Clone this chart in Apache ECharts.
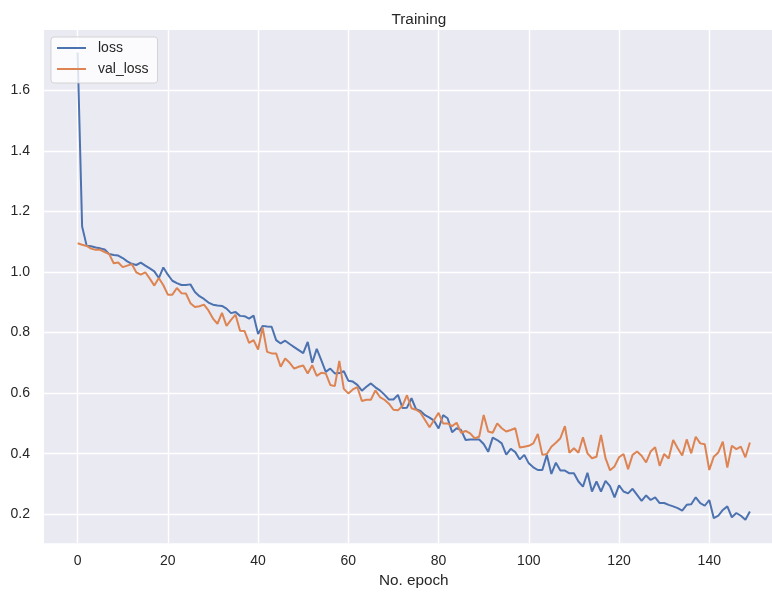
<!DOCTYPE html>
<html>
<head>
<meta charset="utf-8">
<script src="https://cdn.jsdelivr.net/npm/echarts@6/dist/echarts.min.js"></script>
<style>
  html, body { margin: 0; padding: 0; background: #ffffff; }
  #chart { width: 772px; height: 592px; }
</style>
</head>
<body>
<div id="chart"></div>
<script>
// Training history: loss and validation loss per epoch
const lossValues = [
  1.725, 1.150, 1.087, 1.085, 1.081, 1.078, 1.074, 1.059, 1.056, 1.054,
  1.046, 1.035, 1.027, 1.023, 1.031, 1.021, 1.012, 1.002, 0.980, 1.015,
  0.991, 0.971, 0.963, 0.957, 0.957, 0.959, 0.934, 0.920, 0.911, 0.899,
  0.892, 0.889, 0.888, 0.879, 0.864, 0.868, 0.855, 0.854, 0.846, 0.856,
  0.795, 0.822, 0.820, 0.819, 0.775, 0.764, 0.773, 0.762, 0.752, 0.742,
  0.732, 0.769, 0.700, 0.746, 0.709, 0.670, 0.681, 0.665, 0.666, 0.672,
  0.641, 0.638, 0.627, 0.608, 0.621, 0.632, 0.619, 0.609, 0.595, 0.579,
  0.579, 0.594, 0.551, 0.552, 0.583, 0.547, 0.541, 0.527, 0.519, 0.509,
  0.483, 0.527, 0.517, 0.471, 0.484, 0.478, 0.445, 0.447, 0.447, 0.447,
  0.432, 0.406, 0.453, 0.445, 0.434, 0.397, 0.416, 0.405, 0.381, 0.396,
  0.368, 0.355, 0.346, 0.346, 0.396, 0.333, 0.370, 0.344, 0.344, 0.335,
  0.335, 0.308, 0.291, 0.337, 0.275, 0.308, 0.275, 0.310, 0.293, 0.256,
  0.295, 0.275, 0.269, 0.284, 0.264, 0.244, 0.262, 0.247, 0.256, 0.237,
  0.237, 0.231, 0.226, 0.220, 0.212, 0.231, 0.233, 0.256, 0.237, 0.228,
  0.247, 0.187, 0.195, 0.214, 0.226, 0.190, 0.204, 0.195, 0.182, 0.209
];

const valLossValues = [
  1.095, 1.090, 1.086, 1.077, 1.073, 1.073, 1.066, 1.059, 1.029, 1.031,
  1.016, 1.021, 1.026, 0.999, 0.991, 0.999, 0.978, 0.955, 0.980, 0.956,
  0.925, 0.925, 0.947, 0.930, 0.929, 0.897, 0.884, 0.887, 0.892, 0.873,
  0.846, 0.829, 0.865, 0.822, 0.842, 0.859, 0.806, 0.805, 0.766, 0.775,
  0.744, 0.817, 0.736, 0.731, 0.731, 0.687, 0.714, 0.700, 0.681, 0.687,
  0.691, 0.665, 0.692, 0.657, 0.667, 0.665, 0.627, 0.623, 0.706, 0.614,
  0.599, 0.612, 0.620, 0.574, 0.578, 0.578, 0.609, 0.587, 0.578, 0.565,
  0.545, 0.543, 0.558, 0.593, 0.550, 0.545, 0.535, 0.511, 0.487, 0.511,
  0.535, 0.500, 0.500, 0.491, 0.502, 0.469, 0.475, 0.467, 0.451, 0.456,
  0.528, 0.473, 0.469, 0.500, 0.484, 0.473, 0.478, 0.484, 0.420, 0.423,
  0.426, 0.434, 0.465, 0.396, 0.399, 0.423, 0.436, 0.451, 0.491, 0.403,
  0.418, 0.403, 0.454, 0.401, 0.385, 0.390, 0.462, 0.385, 0.345, 0.358,
  0.388, 0.399, 0.349, 0.396, 0.407, 0.393, 0.371, 0.407, 0.421, 0.360,
  0.399, 0.384, 0.445, 0.418, 0.394, 0.447, 0.401, 0.456, 0.434, 0.431,
  0.346, 0.390, 0.404, 0.440, 0.354, 0.426, 0.415, 0.423, 0.388, 0.437
];

const epochs = lossValues.map((_, i) => i);
const xTicks = [0, 20, 40, 60, 80, 100, 120, 140];
const yTicks = [0.2, 0.4, 0.6, 0.8, 1.0, 1.2, 1.4, 1.6];

const TEXT = '#262626';
const FONT = '"Liberation Sans", Arial, sans-serif';

const chart = echarts.init(document.getElementById('chart'), null, { renderer: 'canvas' });

chart.setOption({
  animation: false,
  backgroundColor: '#ffffff',
  title: {
    text: 'Training',
    left: 386.5,
    top: 7,
    textStyle: { color: TEXT, fontFamily: FONT, fontSize: 15.3, fontWeight: 'normal' }
  },
  legend: {
    orient: 'vertical',
    left: 51,
    top: 37,
    padding: [3, 9, 6, 6],
    itemGap: 5,
    itemWidth: 29,
    itemHeight: 2,
    icon: 'rect',
    backgroundColor: 'rgba(255,255,255,0.8)',
    borderColor: 'rgba(204,204,204,0.8)',
    borderWidth: 1,
    borderRadius: 3,
    textStyle: {
      color: TEXT, fontFamily: FONT, fontSize: 14, lineHeight: 16,
      padding: [0, 0, 0, 7]
    },
    data: ['loss', 'val_loss']
  },
  grid: {
    left: 44,
    top: 30,
    right: -11.5,
    bottom: 48.7,
    show: true,
    backgroundColor: '#EAEAF2',
    borderWidth: 0,
    containLabel: false,
    outerBoundsMode: 'none'
  },
  xAxis: {
    type: 'value',
    min: -7.45,
    max: 156.45,
    name: 'No. epoch',
    nameLocation: 'middle',
    nameGap: 29,
    nameTextStyle: { color: TEXT, fontFamily: FONT, fontSize: 15.3 },
    axisLine: { show: false },
    axisTick: { show: false, customValues: xTicks },
    axisLabel: {
      customValues: xTicks,
      margin: 11,
      color: TEXT,
      fontFamily: FONT,
      fontSize: 14,
      formatter: v => String(Math.round(v))
    },
    splitLine: { show: true, lineStyle: { color: '#ffffff', width: 1.4 } }
  },
  yAxis: {
    type: 'value',
    min: 0.104,
    max: 1.799,
    axisLine: { show: false },
    axisTick: { show: false, customValues: yTicks },
    axisLabel: {
      customValues: yTicks,
      margin: 14,
      color: TEXT,
      fontFamily: FONT,
      fontSize: 14,
      formatter: v => v.toFixed(1)
    },
    splitLine: { show: true, lineStyle: { color: '#ffffff', width: 1.4 } }
  },
  series: [
    {
      name: 'loss',
      type: 'line',
      showSymbol: false,
      symbol: 'none',
      color: '#4C72B0',
      lineStyle: { width: 2, color: '#4C72B0' },
      data: epochs.map(i => [i, lossValues[i]])
    },
    {
      name: 'val_loss',
      type: 'line',
      showSymbol: false,
      symbol: 'none',
      color: '#DD8452',
      lineStyle: { width: 2, color: '#DD8452' },
      data: epochs.map(i => [i, valLossValues[i]])
    }
  ]
});
</script>
</body>
</html>
